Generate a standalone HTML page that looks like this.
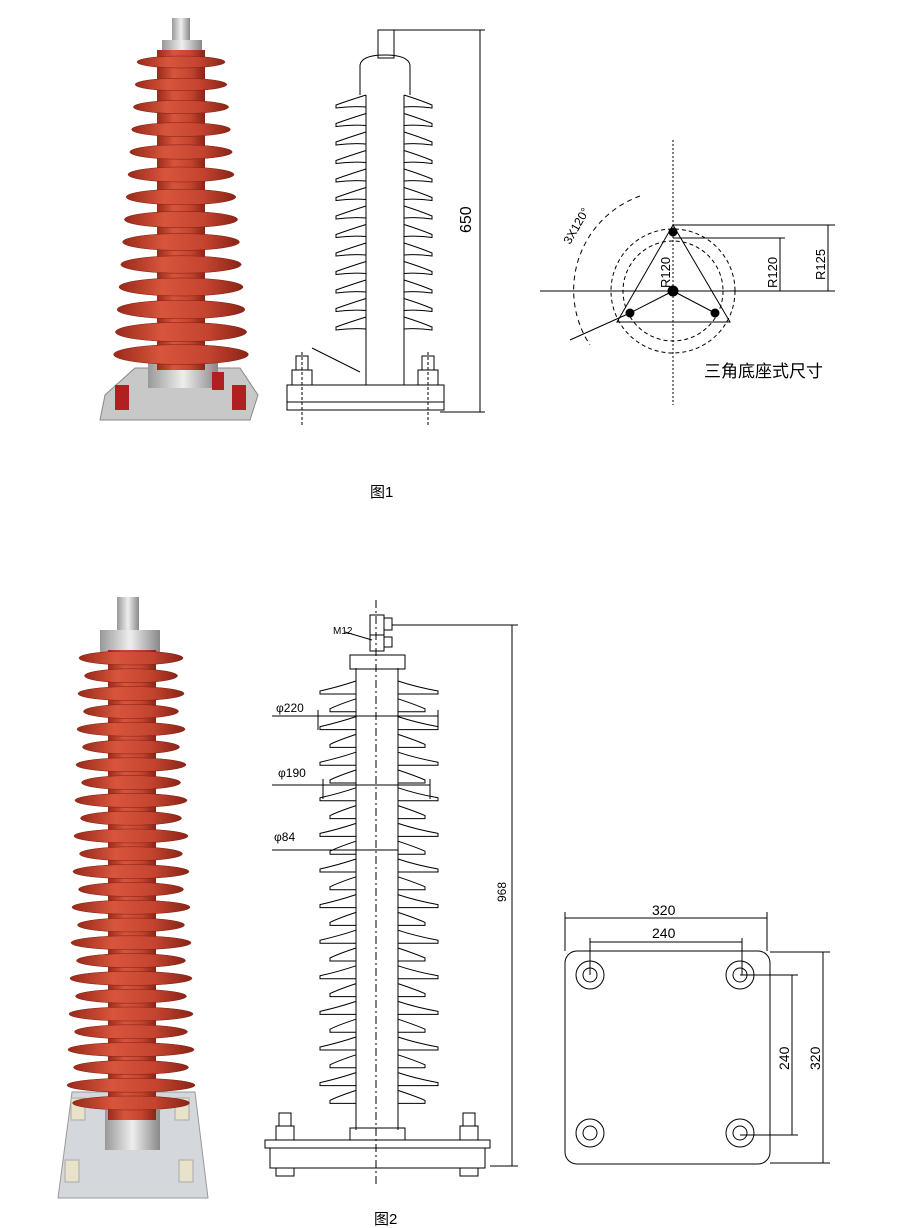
<!DOCTYPE html>
<html><head><meta charset="utf-8"><style>
html,body{margin:0;padding:0;background:#fff;}
svg{display:block;}
text{font-family:"Liberation Sans","Noto Sans CJK SC",sans-serif;fill:#000;}
</style></head><body>
<svg id="s" width="900" height="1228" viewBox="0 0 900 1228" xmlns="http://www.w3.org/2000/svg">
<defs>
<linearGradient id="red" x1="0" x2="1"><stop offset="0" stop-color="#9a2a1a"/><stop offset="0.35" stop-color="#d8553c"/><stop offset="0.7" stop-color="#c44430"/><stop offset="1" stop-color="#8a2416"/></linearGradient>
<linearGradient id="met" x1="0" x2="1"><stop offset="0" stop-color="#999"/><stop offset="0.5" stop-color="#eee"/><stop offset="1" stop-color="#888"/></linearGradient>
</defs>
<g id="p1"></g>
<g id="d1" fill="none" stroke="#000" stroke-width="1"></g>
<g id="tri" fill="none" stroke="#000" stroke-width="1">
 <line x1="673" y1="140" x2="673" y2="405" stroke-dasharray="2,2"/>
 <line x1="540" y1="291" x2="742" y2="291"/>
 <circle cx="673" cy="291" r="62" stroke-dasharray="4,3"/>
 <circle cx="673" cy="291" r="50" stroke-dasharray="4,3"/>
 <path d="M 640 196 A 100 100 0 0 0 590 345" stroke-dasharray="5,4"/>
 <line x1="570" y1="340" x2="630" y2="313"/>
 <polygon points="673,225 617,322 730,322"/>
 <line x1="673" y1="291" x2="630" y2="313"/><line x1="673" y1="291" x2="715" y2="313"/>
 <line x1="673" y1="225" x2="835" y2="225"/><line x1="673" y1="238" x2="785" y2="238"/>
 <line x1="742" y1="291" x2="835" y2="291"/>
 <line x1="780" y1="238" x2="780" y2="291"/><line x1="828" y1="225" x2="828" y2="291"/>
 <circle cx="673" cy="232" r="4" fill="#000"/><circle cx="673" cy="291" r="5" fill="#000"/>
 <circle cx="630" cy="313" r="4" fill="#000"/><circle cx="715" cy="313" r="4" fill="#000"/>
</g>
<text x="0" y="0" font-size="13" transform="translate(670,288) rotate(-90)">R120</text>
<text x="0" y="0" font-size="13" transform="translate(777,288) rotate(-90)">R120</text>
<text x="0" y="0" font-size="13" transform="translate(825,280) rotate(-90)">R125</text>
<text x="0" y="0" font-size="12" transform="translate(570,245) rotate(-60)">3X120°</text>
<text x="704" y="377" font-size="17">三角底座式尺寸</text>
<text x="0" y="0" font-size="16" transform="translate(471,233) rotate(-90)">650</text>
<text x="370" y="497" font-size="15">图1</text>
<g id="p2"></g>
<g id="d2" fill="none" stroke="#000" stroke-width="1"></g>
<text x="333" y="634" font-size="10">M12</text>
<text x="276" y="712" font-size="12">φ220</text>
<text x="278" y="777" font-size="12">φ190</text>
<text x="274" y="841" font-size="12">φ84</text>
<text x="0" y="0" font-size="12" transform="translate(506,902) rotate(-90)">968</text>
<g fill="none" stroke="#000" stroke-width="1">
 <rect x="565" y="951" width="205" height="213" rx="12"/>
 <line x1="565" y1="918" x2="767" y2="918"/><line x1="565" y1="912" x2="565" y2="951"/><line x1="767" y1="912" x2="767" y2="951"/>
 <line x1="590" y1="942" x2="742" y2="942"/><line x1="590" y1="938" x2="590" y2="975"/><line x1="742" y1="938" x2="742" y2="975"/>
 <line x1="792" y1="975" x2="792" y2="1135"/><line x1="740" y1="975" x2="798" y2="975"/><line x1="740" y1="1135" x2="798" y2="1135"/>
 <line x1="823" y1="952" x2="823" y2="1163"/><line x1="770" y1="952" x2="830" y2="952"/><line x1="770" y1="1163" x2="830" y2="1163"/>
 <circle cx="590" cy="975" r="14"/><circle cx="590" cy="975" r="7"/>
 <circle cx="740" cy="975" r="14"/><circle cx="740" cy="975" r="7"/>
 <circle cx="590" cy="1133" r="14"/><circle cx="590" cy="1133" r="7"/>
 <circle cx="740" cy="1133" r="14"/><circle cx="740" cy="1133" r="7"/>
</g>
<text x="652" y="915" font-size="14">320</text>
<text x="652" y="938" font-size="14">240</text>
<text x="0" y="0" font-size="14" transform="translate(789,1070) rotate(-90)">240</text>
<text x="0" y="0" font-size="14" transform="translate(820,1070) rotate(-90)">320</text>
<text x="374" y="1224" font-size="15">图2</text>
</svg>
<script>
const NS="http://www.w3.org/2000/svg";
function add(g,tag,a){const e=document.createElementNS(NS,tag);for(const k in a)e.setAttribute(k,a[k]);document.getElementById(g).appendChild(e);return e;}
// photo 1
add("p1","polygon",{points:"105,395 135,368 240,368 258,395 250,420 100,420",fill:"#c8c8c8",stroke:"#888"});
add("p1","rect",{x:148,y:360,width:70,height:28,fill:"url(#met)"});
add("p1","rect",{x:115,y:385,width:14,height:25,fill:"#b02020"});
add("p1","rect",{x:232,y:385,width:14,height:25,fill:"#b02020"});
add("p1","rect",{x:212,y:372,width:12,height:18,fill:"#b02020"});
add("p1","rect",{x:172,y:18,width:18,height:25,fill:"url(#met)"});
add("p1","rect",{x:162,y:40,width:40,height:12,fill:"url(#met)"});
add("p1","rect",{x:157,y:50,width:48,height:320,fill:"url(#red)"});
for(let i=0;i<14;i++){const y=62+i*22.5;const w=44+i*1.8;add("p1","ellipse",{cx:181,cy:y,rx:w,ry:6+i*0.3,fill:"url(#red)",stroke:"#7a1e10","stroke-width":0.5});}
// drawing 1
add("d1","rect",{x:378,y:30,width:16,height:28});
add("d1","line",{x1:392,y1:30,x2:485,y2:30});
add("d1","line",{x1:480,y1:30,x2:480,y2:412});
add("d1","line",{x1:440,y1:412,x2:485,y2:412});
add("d1","path",{d:"M360 95 L360 65 Q362 55 385 55 Q408 55 410 65 L410 95"});
for(let i=0;i<13;i++){const y=100+i*18.5;add("d1","path",{d:`M366 ${y-5} Q350 ${y} 336 ${y+5} L336 ${y+8} Q352 ${y+6} 366 ${y+7} M404 ${y-5} Q420 ${y} 432 ${y+5} L432 ${y+8} Q418 ${y+6} 404 ${y+7}`});}
add("d1","line",{x1:366,y1:95,x2:366,y2:385});add("d1","line",{x1:404,y1:95,x2:404,y2:385});
add("d1","line",{x1:312,y1:348,x2:360,y2:372});
add("d1","rect",{x:287,y:385,width:157,height:17});
add("d1","rect",{x:287,y:402,width:157,height:8});
add("d1","rect",{x:292,y:370,width:20,height:15});add("d1","rect",{x:418,y:370,width:20,height:15});
add("d1","rect",{x:296,y:356,width:12,height:14});add("d1","rect",{x:422,y:356,width:12,height:14});
add("d1","line",{x1:302,y1:352,x2:302,y2:425,"stroke-dasharray":"3,2"});add("d1","line",{x1:428,y1:352,x2:428,y2:425,"stroke-dasharray":"3,2"});
// photo 2
add("p2","polygon",{points:"72,1092 195,1092 208,1198 58,1198",fill:"#d4d8dc",stroke:"#999"});
[[78,1098],[182,1098],[72,1160],[186,1160]].forEach(p=>{add("p2","rect",{x:p[0]-7,y:p[1],width:14,height:22,fill:"#e8e2c8",stroke:"#aaa"});});
add("p2","rect",{x:105,y:1110,width:55,height:40,fill:"url(#met)"});
add("p2","rect",{x:117,y:597,width:22,height:40,fill:"url(#met)"});
add("p2","rect",{x:100,y:630,width:60,height:22,fill:"url(#met)"});
add("p2","rect",{x:108,y:650,width:48,height:470,fill:"url(#red)"});
for(let i=0;i<26;i++){const y=658+i*17.8;const w=(i%2?46:52)+i*0.5;add("p2","ellipse",{cx:131,cy:y,rx:w,ry:7,fill:"url(#red)",stroke:"#7a1e10","stroke-width":0.5});}
// drawing 2
add("d2","line",{x1:376,y1:600,x2:376,y2:1185,"stroke-dasharray":"8,3,2,3"});
add("d2","rect",{x:370,y:615,width:14,height:20});add("d2","rect",{x:370,y:635,width:14,height:16});
add("d2","rect",{x:384,y:618,width:8,height:12});add("d2","rect",{x:384,y:637,width:8,height:10});
add("d2","line",{x1:392,y1:625,x2:518,y2:625});
add("d2","line",{x1:512,y1:625,x2:512,y2:1166});add("d2","line",{x1:490,y1:1166,x2:518,y2:1166});
add("d2","line",{x1:345,y1:632,x2:372,y2:640});
add("d2","rect",{x:350,y:655,width:55,height:14});
for(let i=0;i<24;i++){const y=685+i*17.8;const wide=i%2==0;const L=wide?320:330,R=wide?438:425;
add("d2","path",{d:`M356 ${y-4} Q338 ${y+2} ${L} ${y+6} L${L} ${y+9} L356 ${y+9} M398 ${y-4} Q416 ${y+2} ${R} ${y+6} L${R} ${y+9} L398 ${y+9}`});}
add("d2","line",{x1:356,y1:668,x2:356,y2:1130});add("d2","line",{x1:398,y1:668,x2:398,y2:1130});
add("d2","rect",{x:350,y:1128,width:55,height:12});
add("d2","rect",{x:265,y:1140,width:225,height:8});add("d2","rect",{x:270,y:1148,width:215,height:20});
add("d2","rect",{x:276,y:1126,width:18,height:14});add("d2","rect",{x:460,y:1126,width:18,height:14});
add("d2","rect",{x:279,y:1113,width:12,height:13});add("d2","rect",{x:463,y:1113,width:12,height:13});
add("d2","rect",{x:276,y:1168,width:18,height:8});add("d2","rect",{x:460,y:1168,width:18,height:8});
[[716,318,438,720],[785,323,430,785],[850,356,398,850]].forEach(a=>{const[y,l,r,t]=a;
add("d2","line",{x1:l,y1:y,x2:r,y2:y});add("d2","line",{x1:l,y1:y-6,x2:l,y2:y+14});add("d2","line",{x1:r,y1:y-6,x2:r,y2:y+14});
add("d2","line",{x1:272,y1:y,x2:l,y2:y});});
</script>
</body></html>
